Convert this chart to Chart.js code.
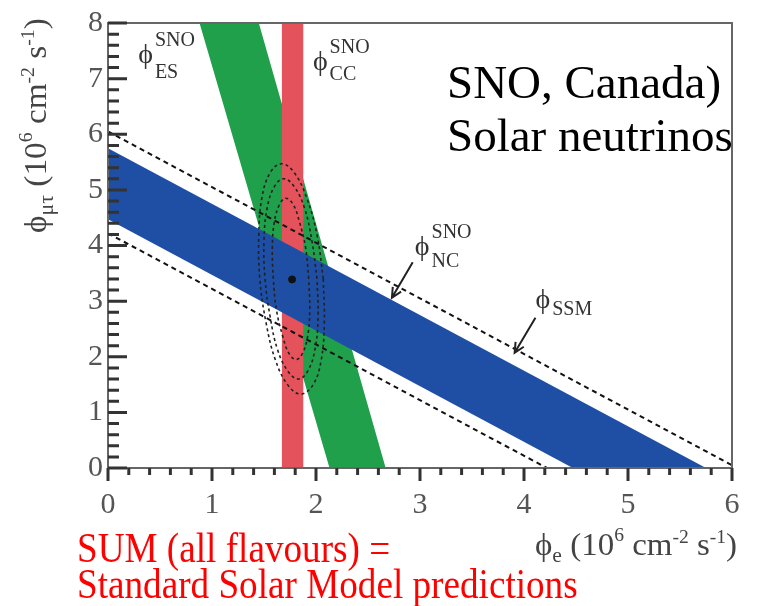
<!DOCTYPE html>
<html>
<head>
<meta charset="utf-8">
<script src="https://cdn.jsdelivr.net/npm/chart.js@4.4.1/dist/chart.umd.min.js"></script>
<style>
  html, body { margin: 0; padding: 0; background: #fff; }
  #wrap { width: 769px; height: 606px; position: relative; }
</style>
</head>
<body>
<div id="wrap"><canvas id="snoChart"></canvas></div>
<script>
const SERIF = '"Liberation Serif", "DejaVu Serif", serif';
const PHI = 'ϕ';

// tick labels
const xTicks = [0, 1, 2, 3, 4, 5, 6];
const yTicks = [0, 1, 2, 3, 4, 5, 6, 7, 8];
// minor ticks every 0.2
const xMinor = [0.2, 0.4, 0.6, 0.8, 1.2, 1.4, 1.6, 1.8, 2.2, 2.4, 2.6, 2.8, 3.2, 3.4, 3.6, 3.8, 4.2, 4.4, 4.6, 4.8, 5.2, 5.4, 5.6, 5.8];
const yMinor = [0.2, 0.4, 0.6, 0.8, 1.2, 1.4, 1.6, 1.8, 2.2, 2.4, 2.6, 2.8, 3.2, 3.4, 3.6, 3.8, 4.2, 4.4, 4.6, 4.8, 5.2, 5.4, 5.6, 5.8, 6.2, 6.4, 6.6, 6.8, 7.2, 7.4, 7.6, 7.8];

// NC band: phi_e + phi_mutau
const ncUpper = [{x: 0, y: 5.75}, {x: 5.75, y: 0}];
const ncLower = [{x: 0, y: 4.47}, {x: 4.47, y: 0}, {x: 5.75, y: 0}];
// CC band: phi_e only
const ccBand = [{x: 1.67, y: 8}, {x: 1.88, y: 8}];
// ES band: phi_e + 0.154 phi_mutau
const esUpper = [{x: 0.88, y: 8}, {x: 1.45, y: 8}, {x: 2.67, y: 0}];
const esLower = [{x: 0.88, y: 8}, {x: 2.13, y: 0}, {x: 2.67, y: 0}];
// SSM prediction (dashed)
const ssmUpper = [{x: 0, y: 6.05}, {x: 6, y: 0.05}];
const ssmLower = [{x: 0, y: 4.22}, {x: 4.22, y: 0}];

// best fit and contours
const bestFit = [{x: 1.77, y: 3.39}];
const contour99 = [
  {x: 2.07, y: 3.40}, {x: 2.01, y: 4.19}, {x: 1.91, y: 4.86}, {x: 1.79, y: 5.31},
  {x: 1.67, y: 5.47}, {x: 1.56, y: 5.31}, {x: 1.48, y: 4.86}, {x: 1.45, y: 4.19},
  {x: 1.46, y: 3.40}, {x: 1.52, y: 2.61}, {x: 1.61, y: 1.94}, {x: 1.73, y: 1.49},
  {x: 1.85, y: 1.33}, {x: 1.97, y: 1.49}, {x: 2.05, y: 1.94}, {x: 2.08, y: 2.61},
  {x: 2.07, y: 3.40}
];
const contour95 = [
  {x: 2.01, y: 3.40}, {x: 1.96, y: 4.09}, {x: 1.89, y: 4.67}, {x: 1.79, y: 5.06},
  {x: 1.69, y: 5.20}, {x: 1.60, y: 5.06}, {x: 1.53, y: 4.67}, {x: 1.50, y: 4.09},
  {x: 1.51, y: 3.40}, {x: 1.56, y: 2.71}, {x: 1.63, y: 2.13}, {x: 1.73, y: 1.74},
  {x: 1.83, y: 1.60}, {x: 1.92, y: 1.74}, {x: 1.99, y: 2.13}, {x: 2.02, y: 2.71},
  {x: 2.01, y: 3.40}
];
const contour68 = [
  {x: 1.93, y: 3.40}, {x: 1.90, y: 3.96}, {x: 1.84, y: 4.43}, {x: 1.78, y: 4.74},
  {x: 1.71, y: 4.85}, {x: 1.65, y: 4.74}, {x: 1.60, y: 4.43}, {x: 1.58, y: 3.96},
  {x: 1.59, y: 3.40}, {x: 1.62, y: 2.84}, {x: 1.68, y: 2.37}, {x: 1.74, y: 2.06},
  {x: 1.81, y: 1.95}, {x: 1.87, y: 2.06}, {x: 1.92, y: 2.37}, {x: 1.94, y: 2.84},
  {x: 1.93, y: 3.40}
];

// band labels (phi with superscript / subscript) and arrows
const bandLabels = [
  {x: 0.29, y: 7.28, sup: 'SNO', sub: 'ES', subDy: 15},
  {x: 1.97, y: 7.16, sup: 'SNO', sub: 'CC', subDy: 10},
  {x: 2.95, y: 3.83, sup: 'SNO', sub: 'NC', subDy: 12},
  {x: 4.11, y: 2.87, sup: '', sub: 'SSM', subDy: 7}
];
const arrows = [
  {from: {x: 2.93, y: 3.70}, to: {x: 2.73, y: 3.06}},
  {from: {x: 4.11, y: 2.70}, to: {x: 3.91, y: 2.07}}
];

const xTitle = [[PHI, 32, 0], ['e', 21, 7], [' (10', 32, 0], ['6', 19, -14], [' cm', 32, 0], ['-2', 19, -12], [' s', 32, 0], ['-1', 19, -12], [')', 32, 0]];
const yTitle = [[PHI, 32, 0], ['μτ', 21, 7], [' (10', 32, 0], ['6', 19, -14], [' cm', 32, 0], ['-2', 19, -12], [' s', 32, 0], ['-1', 19, -12], [')', 32, 0]];

function drawRich(ctx, parts, x, y, sx) {
  ctx.save();
  ctx.translate(x, y);
  ctx.scale(sx, 1);
  ctx.textBaseline = 'alphabetic';
  ctx.textAlign = 'left';
  let cx = 0;
  for (const [t, size, dy] of parts) {
    ctx.font = size + 'px ' + SERIF;
    ctx.fillText(t, cx, dy);
    cx += ctx.measureText(t).width;
  }
  ctx.restore();
}

const framePlugin = {
  id: 'frame',
  afterDatasetsDraw(chart) {
    const {ctx, chartArea: a, scales: {x, y}} = chart;
    ctx.save();
    ctx.setLineDash([]);

    // frame
    ctx.strokeStyle = '#666';
    ctx.lineWidth = 2;
    ctx.strokeRect(a.left, a.top, a.right - a.left, a.bottom - a.top);

    // ticks (x outward, y inward)
    ctx.strokeStyle = '#333';
    ctx.lineWidth = 3;
    ctx.beginPath();
    xTicks.forEach(v => { const p = x.getPixelForValue(v); ctx.moveTo(p, a.bottom); ctx.lineTo(p, a.bottom + 13); });
    xMinor.forEach(v => { const p = x.getPixelForValue(v); ctx.moveTo(p, a.bottom); ctx.lineTo(p, a.bottom + 7); });
    yTicks.forEach(v => { const p = y.getPixelForValue(v); ctx.moveTo(a.left, p); ctx.lineTo(a.left + 19, p); });
    yMinor.forEach(v => { const p = y.getPixelForValue(v); ctx.moveTo(a.left, p); ctx.lineTo(a.left + 11, p); });
    ctx.stroke();

    // band labels
    ctx.fillStyle = '#333';
    ctx.textAlign = 'left';
    ctx.textBaseline = 'alphabetic';
    bandLabels.forEach(l => {
      const px = x.getPixelForValue(l.x);
      const py = y.getPixelForValue(l.y);
      ctx.font = '28px ' + SERIF;
      ctx.fillText(PHI, px, py);
      const w = ctx.measureText(PHI).width + 2;
      ctx.font = '20px ' + SERIF;
      if (l.sup) ctx.fillText(l.sup, px + w, py - 17);
      ctx.fillText(l.sub, px + w, py + l.subDy);
    });

    // arrows
    ctx.strokeStyle = '#222';
    ctx.lineWidth = 2;
    arrows.forEach(ar => {
      const x0 = x.getPixelForValue(ar.from.x), y0 = y.getPixelForValue(ar.from.y);
      const x1 = x.getPixelForValue(ar.to.x), y1 = y.getPixelForValue(ar.to.y);
      const ang = Math.atan2(y1 - y0, x1 - x0);
      ctx.beginPath();
      ctx.moveTo(x0, y0);
      ctx.lineTo(x1, y1);
      ctx.moveTo(x1 - 11 * Math.cos(ang - 0.45), y1 - 11 * Math.sin(ang - 0.45));
      ctx.lineTo(x1, y1);
      ctx.lineTo(x1 - 11 * Math.cos(ang + 0.45), y1 - 11 * Math.sin(ang + 0.45));
      ctx.stroke();
    });
    ctx.restore();
  },
  afterDraw(chart) {
    const ctx = chart.ctx;
    ctx.save();
    ctx.fillStyle = '#444';
    drawRich(ctx, xTitle, 535, 555, 1.03);
    ctx.save();
    ctx.translate(46, 233);
    ctx.rotate(-Math.PI / 2);
    drawRich(ctx, yTitle, 0, 0, 1.04);
    ctx.restore();

    ctx.fillStyle = '#000';
    ctx.font = '47px ' + SERIF;
    ctx.textAlign = 'left';
    ctx.textBaseline = 'alphabetic';
    ctx.fillText('SNO, Canada)', 447, 98);
    ctx.fillText('Solar neutrinos', 447, 151);

    ctx.fillStyle = '#ff0000';
    ctx.save();
    ctx.translate(77, 562);
    ctx.scale(0.885, 1);
    ctx.font = '42px ' + SERIF;
    ctx.fillText('SUM (all flavours) =', 0, 0);
    ctx.fillText('Standard Solar Model predictions', 0, 36);
    ctx.restore();
    ctx.restore();
  }
};

const bandStyle = {borderColor: 'transparent', borderWidth: 0, pointRadius: 0, tension: 0};
const dotStyle = {borderColor: '#222', borderWidth: 1.6, borderDash: [3, 3], pointRadius: 0, tension: 0.4, fill: false};

new Chart(document.getElementById('snoChart'), {
  type: 'line',
  data: {
    datasets: [
      {data: bestFit, showLine: false, pointRadius: 3.5, pointBackgroundColor: '#111', pointBorderColor: '#111'},
      {data: contour99, ...dotStyle},
      {data: contour95, ...dotStyle},
      {data: contour68, ...dotStyle},
      {data: ssmUpper, borderColor: '#111', borderWidth: 2, borderDash: [5, 4], pointRadius: 0, fill: false},
      {data: ssmLower, borderColor: '#111', borderWidth: 2, borderDash: [5, 4], pointRadius: 0, fill: false},
      {data: ncUpper, ...bandStyle, backgroundColor: '#1f4fa4', fill: '+1'},
      {data: ncLower, ...bandStyle, fill: false},
      {data: ccBand, ...bandStyle, backgroundColor: '#e4525c', fill: 'origin'},
      {data: esUpper, ...bandStyle, backgroundColor: '#21a04c', fill: '+1'},
      {data: esLower, ...bandStyle, fill: false}
    ]
  },
  options: {
    responsive: true,
    maintainAspectRatio: false,
    animation: false,
    layout: {padding: {top: 23, right: 37, left: 0, bottom: 0}},
    plugins: {legend: {display: false}, tooltip: {enabled: false}},
    scales: {
      x: {
        type: 'linear', min: 0, max: 6,
        afterBuildTicks: s => { s.ticks = xTicks.map(v => ({value: v})); },
        afterFit: s => { s.height = 138; },
        grid: {display: false, drawTicks: false},
        border: {display: false},
        ticks: {padding: 19, color: '#555', maxRotation: 0, autoSkip: false, font: {family: SERIF, size: 30}}
      },
      y: {
        type: 'linear', min: 0, max: 8,
        afterBuildTicks: s => { s.ticks = yTicks.map(v => ({value: v})); },
        afterFit: s => { s.width = 108; },
        grid: {display: false, drawTicks: false},
        border: {display: false},
        ticks: {padding: 5, color: '#555', autoSkip: false, font: {family: SERIF, size: 30}}
      }
    }
  },
  plugins: [framePlugin]
});
</script>
</body>
</html>
